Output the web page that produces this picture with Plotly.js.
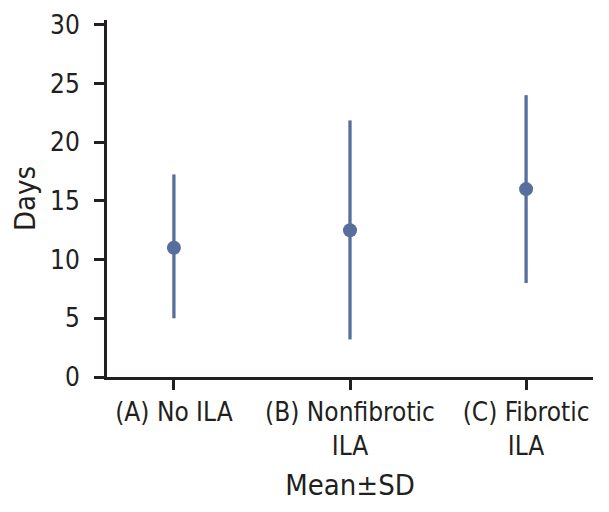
<!DOCTYPE html>
<html>
<head>
<meta charset="utf-8">
<script src="https://cdn.plot.ly/plotly-3.0.1.min.js"></script>
<style>html,body{margin:0;padding:0;background:#fff;}#chart{width:609px;height:512px;}</style>
</head>
<body>
<div id="chart"></div>
<script>
// Data
const categories = ["(A) No ILA", "(B) Nonfibrotic<br>ILA", "(C) Fibrotic<br>ILA"];
const meanDays = [11.0, 12.5, 16.0];
const upperDays = [17.25, 21.85, 24.0];
const lowerDays = [5.0, 3.2, 8.0];
const yTickVals = [0, 5, 10, 15, 20, 25, 30];

const plusErr = upperDays.map((u, i) => u - meanDays[i]);
const minusErr = lowerDays.map((l, i) => meanDays[i] - l);

const markColor = "rgb(88,111,158)";
const inkColor = "#231f20";
const fontFam = "DejaVu Sans Condensed, Liberation Sans Narrow, Arial, sans-serif";

const trace = {
  type: "scatter",
  mode: "markers",
  x: categories,
  y: meanDays,
  marker: {color: markColor, size: 14},
  error_y: {
    type: "data",
    symmetric: false,
    array: plusErr,
    arrayminus: minusErr,
    color: markColor,
    thickness: 3.3,
    width: 0
  },
  cliponaxis: false,
  hoverinfo: "skip"
};

const layout = {
  width: 609,
  height: 512,
  margin: {l: 107, r: 16, t: 20, b: 135},
  paper_bgcolor: "#ffffff",
  plot_bgcolor: "#ffffff",
  showlegend: false,
  font: {family: fontFam, color: inkColor, size: 26},
  xaxis: {
    type: "category",
    range: [-0.38, 2.38],
    showgrid: false,
    zeroline: false,
    showline: true,
    linecolor: inkColor,
    linewidth: 3,
    ticks: "outside",
    ticklen: 10,
    tickwidth: 3,
    tickcolor: inkColor,
    tickfont: {family: fontFam, size: 26, color: inkColor},
    title: {text: "Mean±SD", font: {family: fontFam, size: 29, color: inkColor}, standoff: 15},
    fixedrange: true
  },
  yaxis: {
    range: [0, 30.4],
    tickvals: yTickVals,
    ticktext: yTickVals.map(String),
    showgrid: false,
    zeroline: false,
    showline: true,
    linecolor: inkColor,
    linewidth: 3,
    ticks: "outside",
    ticklen: 10,
    tickwidth: 3,
    tickcolor: inkColor,
    ticklabelstandoff: 9,
    tickfont: {family: fontFam, size: 26, color: inkColor},
    title: {text: "Days", font: {family: fontFam, size: 29, color: inkColor}, standoff: 6},
    fixedrange: true
  }
};

Plotly.newPlot("chart", [trace], layout, {displayModeBar: false, staticPlot: true});
</script>
</body>
</html>
